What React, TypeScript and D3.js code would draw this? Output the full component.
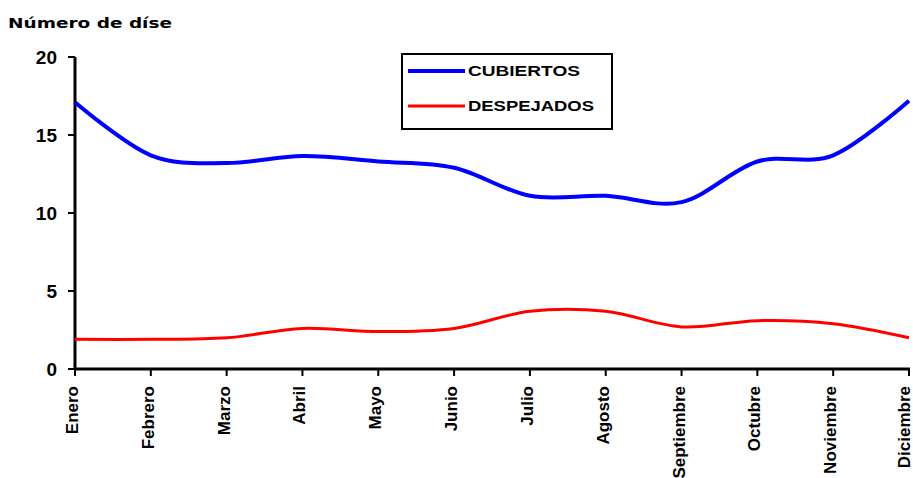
import React from 'react';
import * as d3 from 'd3';

const months = ['Enero', 'Febrero', 'Marzo', 'Abril', 'Mayo', 'Junio', 'Julio', 'Agosto', 'Septiembre', 'Octubre', 'Noviembre', 'Diciembre'];
const cubiertos = [17.1, 13.7, 13.2, 13.65, 13.3, 12.9, 11.1, 11.1, 10.7, 13.3, 13.7, 17.2];
const despejados = [1.9, 1.9, 2.0, 2.6, 2.4, 2.6, 3.7, 3.7, 2.7, 3.1, 2.9, 2.0];
const yTicks = [0, 5, 10, 15, 20];

const width = 913;
const height = 478;
const left = 75;
const right = 909;
const top = 57;
const bottom = 369;
const font = '"Liberation Sans", Arial, sans-serif';

const App: React.FC = () => {
  const x = d3.scalePoint<string>().domain(months).range([left, right]);
  const y = d3.scaleLinear().domain([0, 20]).range([bottom, top]);

  const line = d3.line<number>()
    .x((_, i) => x(months[i]) as number)
    .y(d => y(d))
    .curve(d3.curveCatmullRom.alpha(0));

  return (
    <svg width={width} height={height} style={{ position: 'absolute', left: 0, top: 0, background: '#fff' }}>
      {/* title */}
      <text x={8} y={28} fontFamily='"DejaVu Sans", Verdana, sans-serif' fontWeight="bold" fontSize={14}
        textLength={164} lengthAdjust="spacingAndGlyphs">Número de díse</text>

      {/* y axis */}
      <line x1={left} x2={left} y1={top} y2={bottom + 1} stroke="#000" strokeWidth={3} />
      {yTicks.map(t => (
        <g key={t}>
          <line x1={left - 7} x2={left} y1={y(t)} y2={y(t)} stroke="#000" strokeWidth={2} />
          <text x={57} y={y(t)} dy="0.36em" textAnchor="end" fontFamily={font} fontWeight="bold" fontSize={19}>{t}</text>
        </g>
      ))}

      {/* x axis */}
      <line x1={left - 1} x2={right + 1} y1={bottom} y2={bottom} stroke="#000" strokeWidth={3} />
      {months.map((m, i) => (
        <g key={m} transform={`translate(${x(m)},${bottom})`}>
          <line y1={0} y2={7} stroke="#000" strokeWidth={2} />
          <text transform="rotate(-90)" x={-17} dy={i === months.length - 1 ? 1 : 3} textAnchor="end"
            fontFamily={font} fontWeight="bold" fontSize={17}>{m}</text>
        </g>
      ))}

      {/* series */}
      <path d={line(cubiertos) || ''} fill="none" stroke="#0000FF" strokeWidth={4} />
      <path d={line(despejados) || ''} fill="none" stroke="#FF0000" strokeWidth={3} />

      {/* legend */}
      <rect x={402} y={54} width={210} height={75} fill="#fff" stroke="#000" strokeWidth={2} />
      <line x1={408} x2={465} y1={71} y2={71} stroke="#0000FF" strokeWidth={4} />
      <text x={468} y={71} dy="0.36em" fontFamily={font} fontWeight="bold" fontSize={15}
        textLength={112} lengthAdjust="spacingAndGlyphs">CUBIERTOS</text>
      <line x1={408} x2={465} y1={106} y2={106} stroke="#FF0000" strokeWidth={3} />
      <text x={468} y={106} dy="0.36em" fontFamily={font} fontWeight="bold" fontSize={15}
        textLength={126} lengthAdjust="spacingAndGlyphs">DESPEJADOS</text>
    </svg>
  );
};

export default App;
